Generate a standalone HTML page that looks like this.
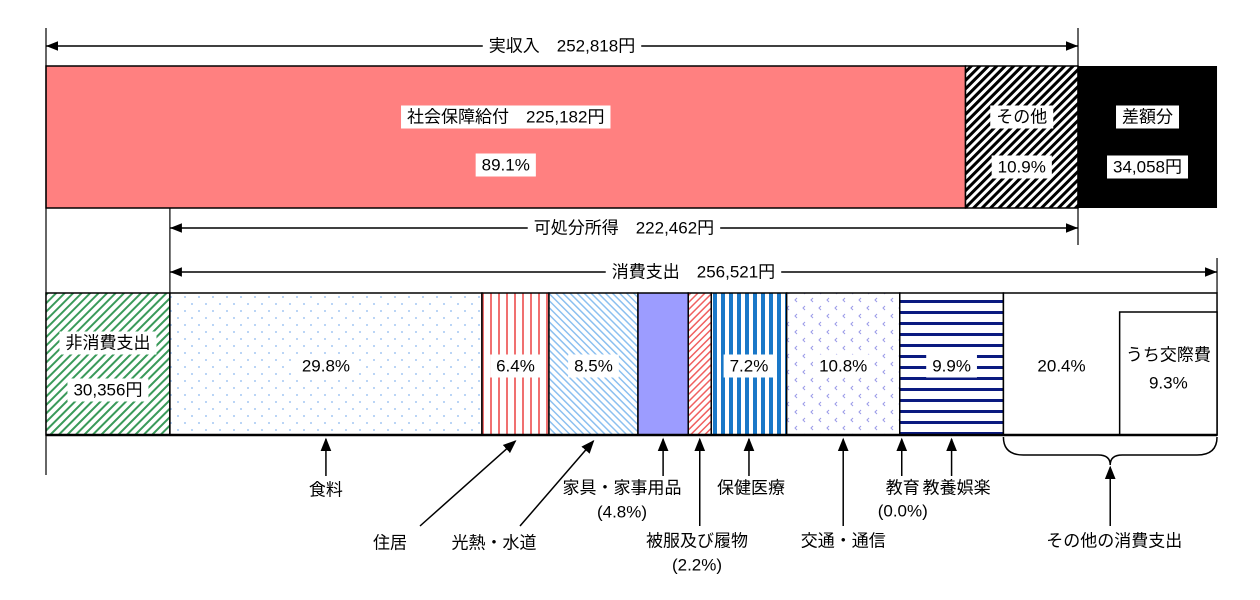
<!DOCTYPE html>
<html><head><meta charset="utf-8"><style>
html,body{margin:0;padding:0;background:#fff}
svg{display:block}
text{font-family:"Liberation Sans","Noto Sans CJK JP",sans-serif;font-size:17px;fill:#000}
</style></head><body>
<svg id="c" width="1260" height="600" viewBox="0 0 1260 600" xmlns="http://www.w3.org/2000/svg">
<defs>
<pattern id="pHatchBW" width="6" height="6" patternUnits="userSpaceOnUse" patternTransform="rotate(45)"><rect width="6" height="6" fill="#fff"/><rect width="3" height="6" fill="#000"/></pattern>
<pattern id="pGreen" width="6" height="6" patternUnits="userSpaceOnUse" patternTransform="rotate(45)"><rect width="6" height="6" fill="#fff"/><rect width="2" height="6" fill="#3a9a5a"/></pattern>
<pattern id="pDots" width="14" height="14" patternUnits="userSpaceOnUse"><rect width="14" height="14" fill="#fff"/><circle cx="3" cy="3" r="0.9" fill="#8ab8f0"/><circle cx="10" cy="10" r="0.9" fill="#8ab8f0"/></pattern>
<pattern id="pRedV" width="8" height="8" patternUnits="userSpaceOnUse"><rect width="8" height="8" fill="#fff"/><rect x="2" width="2" height="8" fill="#f07070"/></pattern>
<pattern id="pBlueDiag" width="5" height="5" patternUnits="userSpaceOnUse" patternTransform="rotate(-45)"><rect width="5" height="5" fill="#fff"/><rect width="1.5" height="5" fill="#8cc0f0"/></pattern>
<pattern id="pRedDiag" width="5" height="5" patternUnits="userSpaceOnUse" patternTransform="rotate(45)"><rect width="5" height="5" fill="#fff"/><rect width="1.5" height="5" fill="#f06060"/></pattern>
<pattern id="pBlueV" width="8" height="8" patternUnits="userSpaceOnUse"><rect width="8" height="8" fill="#fff"/><rect x="1" width="4" height="8" fill="#1a78c8"/></pattern>
<pattern id="pChev" width="16" height="16" patternUnits="userSpaceOnUse"><rect width="16" height="16" fill="#fff"/><path d="M5 2 L3 4 L5 6 M13 10 L11 12 L13 14" stroke="#9a9ae8" stroke-width="1" fill="none"/></pattern>
<pattern id="pNavyH" width="8" height="11" patternUnits="userSpaceOnUse"><rect width="8" height="11" fill="#fff"/><rect y="3" width="8" height="3" fill="#0a1a80"/></pattern>
<marker id="ah" viewBox="0 0 10 10" refX="10" refY="5" markerWidth="8" markerHeight="8" orient="auto-start-reverse"><path d="M0 1 L10 5 L0 9 Z" fill="#000"/></marker>
<marker id="ah2" viewBox="0 0 10 10" refX="9" refY="5" markerWidth="9" markerHeight="9" orient="auto"><path d="M0 1 L10 5 L0 9 Z" fill="#000"/></marker>
</defs>
<g id="g"></g>
</svg>
<script>
// Data
const income = 252818;
const incomeNames = ["社会保障給付", "その他"];
const incomeShares = [89.1, 10.9];
const socialBenefit = 225182;
const deficit = 34058;
const disposable = 222462;
const nonConsumption = 30356;
const consumption = 256521;
const catNames = ["食料","住居","光熱・水道","家具・家事用品","被服及び履物","保健医療","交通・通信","教育","教養娯楽","その他の消費支出"];
const catShares = [29.8, 6.4, 8.5, 4.8, 2.2, 7.2, 10.8, 0.0, 9.9, 20.4];
const socialShare = 9.3;

const NS="http://www.w3.org/2000/svg";
const g=document.getElementById('g');
const X0=46, W=1032;
const sx=v=>v/income*W; // px per yen
function el(tag,attrs,name,parent){const e=document.createElementNS(NS,tag);for(const k in attrs)e.setAttribute(k,attrs[k]);


(parent||g).appendChild(e);return e;}
function fmt(n){return n.toLocaleString('en-US');}
function label(x,y,t,name,bg){
  const tx=el('text',{x:x,y:y,'text-anchor':'middle','dominant-baseline':'central'},name);
  tx.textContent=t;
  if(bg){const b=tx.getBBox();const r=el('rect',{x:b.x-6,y:b.y-2,width:b.width+12,height:b.height+4,fill:'#fff'},name+'-bg');g.insertBefore(r,tx);}
  return tx;
}
function line(x1,y1,x2,y2,name,w,m1,m2){const l=el('line',{x1,y1,x2,y2,stroke:'#000','stroke-width':w||1.5},name);if(m1)l.setAttribute('marker-start',m1);if(m2)l.setAttribute('marker-end',m2);return l;}
function dimArrow(x1,x2,y,t,name){
  line(x1,y,x2,y,name+'-line',1.5,'url(#ah)','url(#ah)');
  label((x1+x2)/2,y,t,name+'-label',true);
}

// Top bar
const TY=66, TH=142;
const xSoc=X0+sx(income*incomeShares[0]/100);
const xInc=X0+sx(income);
const xDef=xInc+sx(deficit);
el('rect',{x:X0,y:TY,width:xSoc-X0,height:TH,fill:'#ff8080',stroke:'#000','stroke-width':1.5},'social-benefit-bar');
el('rect',{x:xSoc,y:TY,width:xInc-xSoc,height:TH,fill:'url(#pHatchBW)',stroke:'#000','stroke-width':1.5},'other-income-bar');
el('rect',{x:xInc,y:TY,width:xDef-xInc,height:TH,fill:'#000'},'deficit-bar');
label((X0+xSoc)/2,117,incomeNames[0]+'　'+fmt(socialBenefit)+'円','social-benefit-label',true);
label((X0+xSoc)/2,165,incomeShares[0].toFixed(1)+'%','social-benefit-share',true);
label((xSoc+xInc)/2,117,incomeNames[1],'other-income-label',true);
label((xSoc+xInc)/2,167,incomeShares[1].toFixed(1)+'%','other-income-share',true);
label((xInc+xDef)/2,117,'差額分','deficit-label',true);
label((xInc+xDef)/2,167,fmt(deficit)+'円','deficit-value',true);

// guides
line(X0,28,X0,475,'left-guide',1.2);
line(xInc,28,xInc,245,'income-right-guide',1.2);
const xNC=X0+sx(nonConsumption);
const xCE=xNC+sx(consumption);
line(xNC,208,xNC,293,'disposable-left-guide',1.2);
line(xCE,258,xCE,293,'consumption-right-guide',1.2);
dimArrow(X0,xInc,46,'実収入　'+fmt(income)+'円','income-dimension');
dimArrow(xNC,xInc,228,'可処分所得　'+fmt(disposable)+'円','disposable-dimension');
dimArrow(xNC,xCE,272,'消費支出　'+fmt(consumption)+'円','consumption-dimension');

// Bottom bar
const BY=293, BH=142;
el('rect',{x:X0,y:BY,width:xNC-X0,height:BH,fill:'url(#pGreen)',stroke:'#000','stroke-width':1.5},'non-consumption-bar');
label((X0+xNC)/2,343,'非消費支出','non-consumption-label',true);
label((X0+xNC)/2,390,fmt(nonConsumption)+'円','non-consumption-value',true);
const fills=['url(#pDots)','url(#pRedV)','url(#pBlueDiag)','#9c9cff','url(#pRedDiag)','url(#pBlueV)','url(#pChev)','#fff','url(#pNavyH)','#fff'];
const showPct=[true,true,true,false,false,true,true,false,true,true];
let cx=xNC; const segX=[];
catShares.forEach((s,i)=>{
  const w=sx(consumption*s/100);
  segX.push([cx,cx+w]);
  el('rect',{x:cx,y:BY,width:w,height:BH,fill:fills[i],stroke:'#000','stroke-width':1.5},'category-bar-'+i);
  cx+=w;
});
// inner box for social expenses
const xs=segX[9][1]-sx(consumption*socialShare/100);
el('rect',{x:xs,y:312,width:segX[9][1]-xs,height:BY+BH-312,fill:'#fff',stroke:'#000','stroke-width':1.5},'social-expense-box');
label((xs+segX[9][1])/2,355,'うち交際費','social-expense-label',false);
label((xs+segX[9][1])/2,383,socialShare.toFixed(1)+'%','social-expense-share',false);
catShares.forEach((s,i)=>{
  if(!showPct[i])return;
  let [a,b]=segX[i]; if(i===9)b=xs;
  label((a+b)/2,366,s.toFixed(1)+'%','category-share-'+i,true);
});
line(X0,BY+BH,xCE,BY+BH,'bottom-base',2.5);

// Bottom labels
const mid=i=>(segX[i][0]+segX[i][1])/2;
function vArrow(x,y1,name){line(x,y1,x,439,name,1.5,null,'url(#ah2)');}
vArrow(mid(0),476,'food-arrow'); label(mid(0),490,catNames[0],'food-label');
line(420,526,mid(1),441,'housing-arrow',1.5,null,'url(#ah2)'); label(390,543,catNames[1],'housing-label');
line(520,526,mid(2),441,'utilities-arrow',1.5,null,'url(#ah2)'); label(494,543,catNames[2],'utilities-label');
vArrow(mid(3),476,'furniture-arrow'); label(622,488,catNames[3],'furniture-label'); label(622,512,'('+catShares[3].toFixed(1)+'%)','furniture-share');
vArrow(mid(4),526,'clothing-arrow'); label(697,541,catNames[4],'clothing-label'); label(697,565,'('+catShares[4].toFixed(1)+'%)','clothing-share');
vArrow(mid(5),476,'medical-arrow'); label(mid(5)+2,488,catNames[5],'medical-label');
vArrow(mid(6),526,'transport-arrow'); label(mid(6),541,catNames[6],'transport-label');
vArrow(segX[7][0]+2,476,'education-arrow'); label(segX[7][0]+3,488,catNames[7],'education-label'); label(segX[7][0]+3,511,'('+catShares[7].toFixed(1)+'%)','education-share');
vArrow(mid(8),476,'recreation-arrow'); label(mid(8)+5,488,catNames[8],'recreation-label');
// brace
const b1=segX[9][0], b2=segX[9][1], bm=(b1+b2)/2;
el('path',{d:`M${b1} 437 Q${b1} 455 ${b1+20} 455 L${bm-12} 455 Q${bm} 455 ${bm} 465 Q${bm} 455 ${bm+12} 455 L${b2-20} 455 Q${b2} 455 ${b2} 437`,fill:'none',stroke:'#000','stroke-width':1.5},'other-brace');
line(bm,526,bm,467,'other-arrow',1.5,null,'url(#ah2)');
label(bm+4,541,catNames[9],'other-label');
</script>
</body></html>
